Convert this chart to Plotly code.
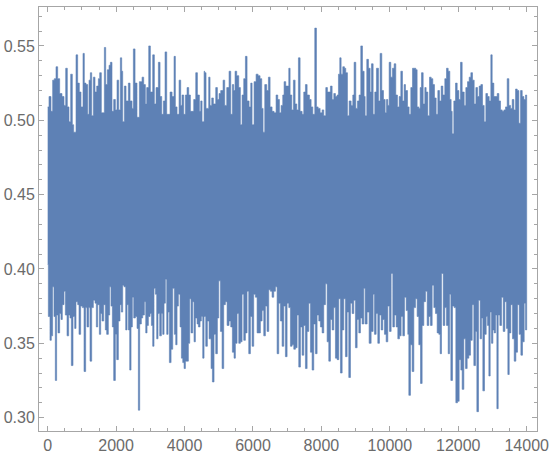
import plotly.graph_objects as go

# Upper envelope of the series (sample index, value)
upper_x = [0, 38, 97, 145, 194, 243, 292, 350, 418, 477, 526, 574, 623, 672, 720, 759, 828, 876, 925, 974,
           1032, 1071, 1120, 1169, 1208, 1247, 1286, 1335, 1383, 1432, 1481, 1520, 1568, 1656, 1695, 1744, 1793,
           1832, 1880, 1929, 1978, 2027, 2075, 2124, 2163, 2192, 2241, 2290, 2358, 2407, 2465, 2504, 2553, 2611,
           2680, 2758, 2806, 2855, 2894, 2953, 3001, 3069, 3118, 3167, 3235, 3284, 3333, 3381, 3430, 3479, 3528,
           3576, 3635, 3693, 3732, 3781, 3840, 3888, 3927, 3976, 4025, 4073, 4122, 4171, 4220, 4268, 4327, 4376,
           4434, 4473, 4512, 4571,
           4589, 4628, 4706, 4745, 4794, 4843, 4911, 4960, 5009, 5057, 5126, 5174, 5233, 5301, 5350, 5398, 5437,
           5476, 5525, 5584, 5632, 5681, 5730, 5779, 5827, 5886, 5935, 5974, 6032, 6091, 6149, 6207, 6256, 6295,
           6344, 6402, 6451, 6500, 6558, 6617, 6675, 6724, 6773, 6822, 6870, 6909, 6958, 7007, 7046, 7085, 7134,
           7182, 7231, 7280, 7328, 7377, 7436, 7484, 7533, 7582, 7650, 7699, 7748, 7806, 7855, 7904, 7962, 8021,
           8069, 8128, 8176, 8225, 8264, 8313, 8362, 8410, 8459, 8498, 8537, 8576, 8625, 8673, 8712, 8761, 8810,
           8868, 8917, 8956, 9005, 9054, 9102, 9151, 9200, 9248,
           9278, 9326, 9375, 9424, 9463, 9512, 9560, 9609, 9668, 9716, 9765, 9814, 9863, 9902, 9941, 9980, 10028,
           10077, 10126, 10174, 10223, 10272, 10321, 10369, 10418, 10457, 10516, 10564, 10613, 10662, 10711,
           10759, 10798, 10847, 10886, 10925, 10974, 11022, 11061, 11110, 11159, 11208, 11256, 11305, 11354,
           11403, 11451, 11500, 11549, 11607, 11656, 11705, 11753, 11792, 11822, 11870, 11919, 11968, 12017,
           12065, 12114, 12173, 12221, 12270, 12319, 12368, 12416, 12465, 12514, 12562, 12611, 12660, 12709,
           12757, 12806, 12855, 12904, 12952, 12991, 13040, 13089, 13138, 13186, 13235, 13284, 13333, 13381,
           13430, 13479, 13528, 13576, 13625, 13674, 13723, 13771, 13820, 13869, 13918, 13966]
upper_y = [0.509, 0.516, 0.506, 0.527, 0.528, 0.536, 0.528, 0.518, 0.516, 0.510, 0.535, 0.509, 0.499, 0.531,
           0.497, 0.492, 0.544, 0.525, 0.519, 0.509, 0.545, 0.525, 0.524, 0.504, 0.527, 0.532, 0.503, 0.529,
           0.519, 0.523, 0.528, 0.532, 0.505, 0.549, 0.524, 0.534, 0.537, 0.539, 0.506, 0.514, 0.507, 0.527,
           0.507, 0.542, 0.533, 0.499, 0.523, 0.513, 0.525, 0.513, 0.508, 0.548, 0.525, 0.502, 0.526, 0.529,
           0.524, 0.511, 0.522, 0.550, 0.519, 0.544, 0.511, 0.522, 0.539, 0.516, 0.504, 0.513, 0.546, 0.504,
           0.504, 0.519, 0.516, 0.543, 0.509, 0.504, 0.527, 0.510, 0.517, 0.504, 0.517, 0.522, 0.517, 0.506,
           0.506, 0.514, 0.532, 0.517, 0.506, 0.513, 0.499, 0.533,
           0.532, 0.508, 0.529, 0.510, 0.515, 0.511, 0.522, 0.514, 0.518, 0.520, 0.527, 0.510, 0.522, 0.533,
           0.504, 0.524, 0.520, 0.533, 0.530, 0.522, 0.497, 0.517, 0.528, 0.543, 0.513, 0.509, 0.525, 0.497,
           0.526, 0.531, 0.530, 0.528, 0.508, 0.492, 0.524, 0.520, 0.529, 0.509, 0.506, 0.505, 0.517, 0.514,
           0.505, 0.510, 0.517, 0.526, 0.523, 0.523, 0.535, 0.517, 0.507, 0.527, 0.511, 0.507, 0.542, 0.506,
           0.504, 0.519, 0.524, 0.517, 0.514, 0.509, 0.504, 0.562, 0.509, 0.508, 0.505, 0.507, 0.503, 0.522,
           0.519, 0.519, 0.523, 0.514, 0.518, 0.516, 0.517, 0.531, 0.542, 0.531, 0.536, 0.535, 0.532, 0.503,
           0.513, 0.510, 0.517, 0.539, 0.508, 0.513, 0.517, 0.550, 0.533, 0.516,
           0.503, 0.541, 0.535, 0.519, 0.538, 0.504, 0.519, 0.535, 0.513, 0.545, 0.520, 0.514, 0.505, 0.514,
           0.510, 0.539, 0.529, 0.535, 0.538, 0.517, 0.509, 0.516, 0.533, 0.513, 0.524, 0.520, 0.509, 0.504,
           0.522, 0.535, 0.535, 0.534, 0.509, 0.508, 0.522, 0.532, 0.511, 0.522, 0.519, 0.503, 0.529, 0.528,
           0.524, 0.515, 0.504, 0.520, 0.513, 0.523, 0.517, 0.528, 0.535, 0.533, 0.514, 0.506, 0.491, 0.513,
           0.525, 0.520, 0.514, 0.539, 0.519, 0.510, 0.522, 0.526, 0.529, 0.532, 0.527, 0.511, 0.522, 0.516,
           0.523, 0.524, 0.510, 0.499, 0.518, 0.516, 0.513, 0.544, 0.525, 0.516, 0.516, 0.518, 0.513, 0.507,
           0.506, 0.507, 0.509, 0.528, 0.510, 0.508, 0.514, 0.507, 0.521, 0.520, 0.498, 0.520, 0.516, 0.514,
           0.517]

# Lower envelope of the series (sample index, value)
lower_x = [0, 19, 67, 106, 145, 184, 223, 262, 301, 350, 389, 428, 477, 516, 565, 613, 652, 691, 740, 789, 828,
           876, 915, 964, 1013, 1062, 1110, 1149, 1198, 1237, 1286, 1335, 1383, 1422, 1461, 1510, 1549, 1588,
           1637, 1685, 1724, 1773, 1812, 1851, 1890, 1929, 1978, 2017, 2066, 2114, 2153, 2192, 2231, 2280, 2319,
           2358, 2397, 2436, 2475, 2514, 2563, 2611, 2650, 2689, 2738, 2777, 2826, 2865, 2904, 2943, 2992, 3031,
           3069, 3108, 3147, 3186, 3225, 3274, 3323, 3362, 3401, 3440, 3479, 3518, 3557, 3606, 3654, 3703, 3742,
           3781, 3820, 3869, 3908, 3947, 3986, 4025, 4064, 4112, 4151, 4190, 4239, 4278, 4317, 4366, 4405, 4453,
           4492, 4531, 4570,
           4619, 4667, 4716, 4775, 4814, 4862, 4911, 4960, 5000, 5048, 5097, 5145, 5194, 5243, 5301, 5350, 5398,
           5447, 5486, 5535, 5584, 5632, 5681, 5730, 5779, 5827, 5876, 5925, 5974, 6022, 6071, 6120, 6169, 6217,
           6266, 6315, 6363, 6412, 6461, 6510, 6558, 6607, 6656, 6705, 6753, 6802, 6851, 6900, 6948, 6997, 7046,
           7095, 7143, 7192, 7241, 7289, 7338, 7387, 7436, 7484, 7533, 7582, 7631, 7680, 7728, 7777, 7826, 7874,
           7923, 7972, 8021, 8069, 8118, 8167, 8215, 8264, 8313, 8362, 8410, 8459, 8508, 8557, 8606, 8654, 8703,
           8752, 8800, 8849, 8898, 8946, 8995, 9044, 9093, 9141, 9190, 9239,
           9278, 9336, 9395, 9453, 9512, 9551, 9599, 9648, 9697, 9746, 9794, 9843, 9892, 9941, 9989, 10038,
           10087, 10135, 10184, 10233, 10282, 10330, 10379, 10428, 10477, 10525, 10555, 10603, 10652, 10701,
           10750, 10798, 10847, 10896, 10944, 10993, 11042, 11091, 11139, 11188, 11237, 11286, 11334, 11383,
           11432, 11471, 11510, 11559, 11607, 11656, 11705, 11744, 11783, 11831, 11880, 11929, 11978, 12026,
           12075, 12114, 12163, 12212, 12260, 12309, 12358, 12407, 12455, 12504, 12543, 12592, 12640, 12679,
           12718, 12767, 12816, 12855, 12894, 12933, 12972, 13011, 13050, 13089, 13128, 13167, 13215, 13264,
           13313, 13362, 13410, 13449, 13489, 13537, 13586, 13635, 13683, 13732, 13781, 13830, 13878, 13927,
           13966]
lower_y = [0.403, 0.368, 0.352, 0.355, 0.388, 0.368, 0.325, 0.369, 0.357, 0.370, 0.366, 0.376, 0.385, 0.369,
           0.355, 0.369, 0.367, 0.335, 0.368, 0.360, 0.378, 0.376, 0.356, 0.375, 0.374, 0.331, 0.374, 0.361,
           0.374, 0.338, 0.374, 0.379, 0.377, 0.361, 0.376, 0.356, 0.370, 0.365, 0.376, 0.359, 0.356, 0.369,
           0.388, 0.375, 0.361, 0.325, 0.356, 0.339, 0.365, 0.376, 0.371, 0.389, 0.388, 0.359, 0.376, 0.359,
           0.332, 0.361, 0.381, 0.367, 0.368, 0.360, 0.305, 0.363, 0.367, 0.369, 0.378, 0.357, 0.362, 0.368,
           0.370, 0.362, 0.348, 0.387, 0.383, 0.353, 0.370, 0.355, 0.370, 0.356, 0.377, 0.393, 0.356, 0.371,
           0.337, 0.346, 0.387, 0.356, 0.349, 0.375, 0.383, 0.361, 0.340, 0.337, 0.333, 0.338, 0.338, 0.350,
           0.380, 0.357, 0.378, 0.351, 0.367, 0.363, 0.361, 0.365, 0.368, 0.340, 0.368,
           0.348, 0.365, 0.353, 0.333, 0.324, 0.356, 0.343, 0.367, 0.392, 0.358, 0.333, 0.376, 0.378, 0.362,
           0.365, 0.361, 0.344, 0.340, 0.350, 0.370, 0.350, 0.351, 0.383, 0.352, 0.357, 0.385, 0.343, 0.368,
           0.348, 0.383, 0.381, 0.357, 0.357, 0.365, 0.372, 0.355, 0.375, 0.358, 0.386, 0.385, 0.381, 0.385,
           0.388, 0.343, 0.377, 0.365, 0.348, 0.375, 0.341, 0.377, 0.374, 0.348, 0.349, 0.346, 0.347, 0.369,
           0.334, 0.361, 0.342, 0.362, 0.333, 0.358, 0.377, 0.344, 0.332, 0.363, 0.343, 0.369, 0.365, 0.361,
           0.357, 0.376, 0.390, 0.351, 0.338, 0.366, 0.359, 0.374, 0.340, 0.339, 0.380, 0.330, 0.359, 0.380,
           0.341, 0.371, 0.327, 0.377, 0.370, 0.379, 0.347, 0.366, 0.357, 0.367, 0.363, 0.387,
           0.363, 0.371, 0.350, 0.358, 0.383, 0.356, 0.370, 0.350, 0.369, 0.359, 0.366, 0.356, 0.351, 0.375,
           0.358, 0.397, 0.361, 0.369, 0.361, 0.353, 0.355, 0.368, 0.355, 0.381, 0.372, 0.356, 0.315, 0.349,
           0.331, 0.374, 0.380, 0.368, 0.349, 0.323, 0.362, 0.378, 0.385, 0.362, 0.368, 0.362, 0.389, 0.374,
           0.370, 0.357, 0.356, 0.343, 0.397, 0.362, 0.374, 0.362, 0.343, 0.383, 0.325, 0.375, 0.374, 0.310,
           0.311, 0.339, 0.332, 0.319, 0.353, 0.333, 0.340, 0.342, 0.352, 0.376, 0.335, 0.358, 0.304, 0.379,
           0.353, 0.367, 0.318, 0.356, 0.368, 0.362, 0.328, 0.371, 0.350, 0.359, 0.357, 0.369, 0.306, 0.369,
           0.362, 0.381, 0.358, 0.378, 0.360, 0.329, 0.357, 0.376, 0.353, 0.338, 0.344, 0.376, 0.356, 0.342,
           0.351, 0.377, 0.359]

N_SAMPLES = 14000

x_ticks = [0, 2000, 4000, 6000, 8000, 10000, 12000, 14000]
y_ticks = [0.30, 0.35, 0.40, 0.45, 0.50, 0.55]


def steps(xs, ys, xend):
    px, py = [], []
    for i in range(len(xs)):
        x1 = xs[i + 1] if i + 1 < len(xs) else xend
        px += [xs[i], x1]
        py += [ys[i], ys[i]]
    return px, py


ux, uy = steps(upper_x, upper_y, N_SAMPLES)
lx, ly = steps(lower_x, lower_y, N_SAMPLES)
poly_x = ux + lx[::-1]
poly_y = uy + ly[::-1]

BLUE = "#5e81b5"
fig = go.Figure()
fig.add_trace(go.Scatter(x=poly_x, y=poly_y, mode="lines", fill="toself",
                         fillcolor=BLUE, line=dict(color=BLUE, width=0.6),
                         hoverinfo="skip", showlegend=False))

axis_common = dict(showline=True, linecolor="#a6a6a6", linewidth=1, mirror="allticks",
                   ticks="inside", ticklen=5, tickcolor="#a6a6a6", showgrid=False, zeroline=False,
                   automargin=False,
                   tickfont=dict(family="Liberation Sans Narrow, Liberation Sans, Arial", size=16,
                                 color="#6b6b6b"))

fig.update_xaxes(range=[-254, 14301], tickvals=x_ticks, ticktext=[str(v) for v in x_ticks],
                 minor=dict(dtick=500, tick0=0, ticklen=3, ticks="inside", tickcolor="#a6a6a6"),
                 **axis_common)
fig.update_yaxes(range=[0.291, 0.5762], tickvals=y_ticks, ticktext=[f"{v:.2f}" for v in y_ticks],
                 minor=dict(dtick=0.01, tick0=0.30, ticklen=3, ticks="inside", tickcolor="#a6a6a6"),
                 **axis_common)

fig.update_layout(template="none", width=550, height=463, margin=dict(l=39, r=13, t=7, b=32),
                  plot_bgcolor="white", paper_bgcolor="white")

fig.write_html("out.html", config={"displayModeBar": False},
               post_script="document.body.style.margin='0';document.body.style.padding='0';")
